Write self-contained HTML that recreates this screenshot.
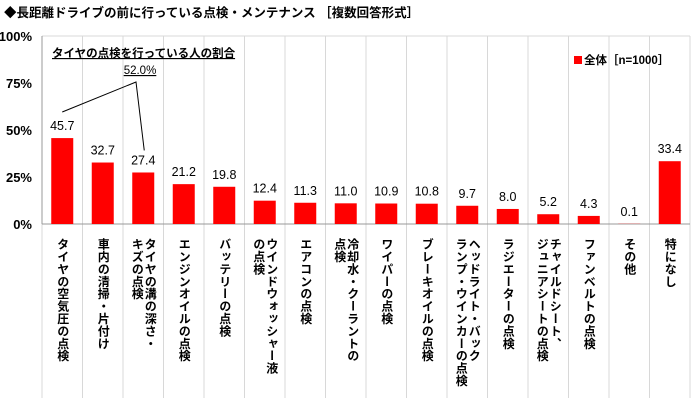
<!DOCTYPE html>
<html><head><meta charset="utf-8"><style>
body{margin:0;background:#fff;width:700px;height:401px;overflow:hidden;font-family:"Liberation Sans","Noto Sans CJK JP",sans-serif;}
svg text{font-family:"Liberation Sans","Noto Sans CJK JP",sans-serif;}
.lbl{position:absolute;top:238px;writing-mode:vertical-rl;font-weight:bold;font-size:12px;line-height:13px;letter-spacing:0.4px;color:#000;white-space:nowrap;}
</style></head><body>
<div style="position:relative;width:700px;height:401px;">
<svg id="svg" width="700" height="401" style="position:absolute;left:0;top:0"></svg>
<div id="labels"></div>
</div>
<script>
const categories=["タイヤの空気圧の点検","車内の清掃・片付け","タイヤの溝の深さ・<br>キズの点検","エンジンオイルの点検","バッテリーの点検","ウインドウォッシャー液<br>の点検","エアコンの点検","冷却水・クーラントの<br>点検","ワイパーの点検","ブレーキオイルの点検","ヘッドライト・バック<br>ランプ・ウインカーの点検","ラジエーターの点検","チャイルドシート、<br>ジュニアシートの点検","ファンベルトの点検","その他","特になし"];
const values=[45.7,32.7,27.4,21.2,19.8,12.4,11.3,11.0,10.9,10.8,9.7,8.0,5.2,4.3,0.1,33.4];
const ticks=[0,25,50,75,100];
const tireShare="52.0%";
const NS="http://www.w3.org/2000/svg";
const svg=document.getElementById('svg');
const X0=42,X1=690,Y0=224,Y100=36;
const bw=(X1-X0)/categories.length;
function y(v){return Y0-(Y0-Y100)*v/100;}
function xc(i){return X0+bw*(i+0.5);}
function mk(t,a,txt){const e=document.createElementNS(NS,t);for(const k in a)e.setAttribute(k,a[k]);if(txt!=null)e.textContent=txt;svg.appendChild(e);return e;}
let e=mk('text',{x:4,y:17,'font-size':12.5,'font-weight':'bold'},"◆長距離ドライブの前に行っている点検・メンテナンス ［複数回答形式］");


for(let i=0;i<=categories.length;i++){
  const l=mk('line',{x1:X0+bw*i,x2:X0+bw*i,y1:Y100,y2:398,stroke:'#d8d8d8','stroke-width':1});
  
  
}
mk('line',{x1:X0,x2:X1,y1:Y100,y2:Y100,stroke:'#d8d8d8'});
const ax=mk('line',{x1:X0,x2:X0,y1:Y100,y2:Y0,stroke:'#999'});


const bx=mk('line',{x1:X0,x2:X1,y1:Y0,y2:Y0,stroke:'#999'});


ticks.forEach(t=>{
  const tx=mk('text',{x:32,y:y(t)+5,'font-size':13,'font-weight':'bold','text-anchor':'end'},t+"%");
  
  
});
values.forEach((v,i)=>{
  const r=mk('rect',{x:xc(i)-11,y:y(v),width:22,height:Y0-y(v),fill:'#ff0000'});
  
  
  const t=mk('text',{x:xc(i),y:y(v)-8,'font-size':12.5,'text-anchor':'middle'},v.toFixed(1));
  
  
});
const a1=mk('text',{x:52,y:57,'font-size':11.5,'font-weight':'bold','text-decoration':'underline'},"タイヤの点検を行っている人の割合");


const a2=mk('text',{x:140,y:74,'font-size':11.5,'text-anchor':'middle','text-decoration':'underline'},tireShare);


const pl=mk('polyline',{points:`${xc(0)},112 136,82 ${xc(2)+1},${y(values[2])-22}`,fill:'none',stroke:'#000','stroke-width':1});


const lr=mk('rect',{x:574,y:56,width:8,height:8,fill:'#ff0000'});


const lt=mk('text',{x:584,y:64,'font-size':11.5,'font-weight':'bold'},"全体［n=1000］");


const lab=document.getElementById('labels');
categories.forEach((c,i)=>{
  const d=document.createElement('div');
  d.className='lbl';
  
  
  d.innerHTML=c;
  lab.appendChild(d);
  d.style.left=(xc(i)-d.offsetWidth/2)+'px';
});
</script>
</body></html>
